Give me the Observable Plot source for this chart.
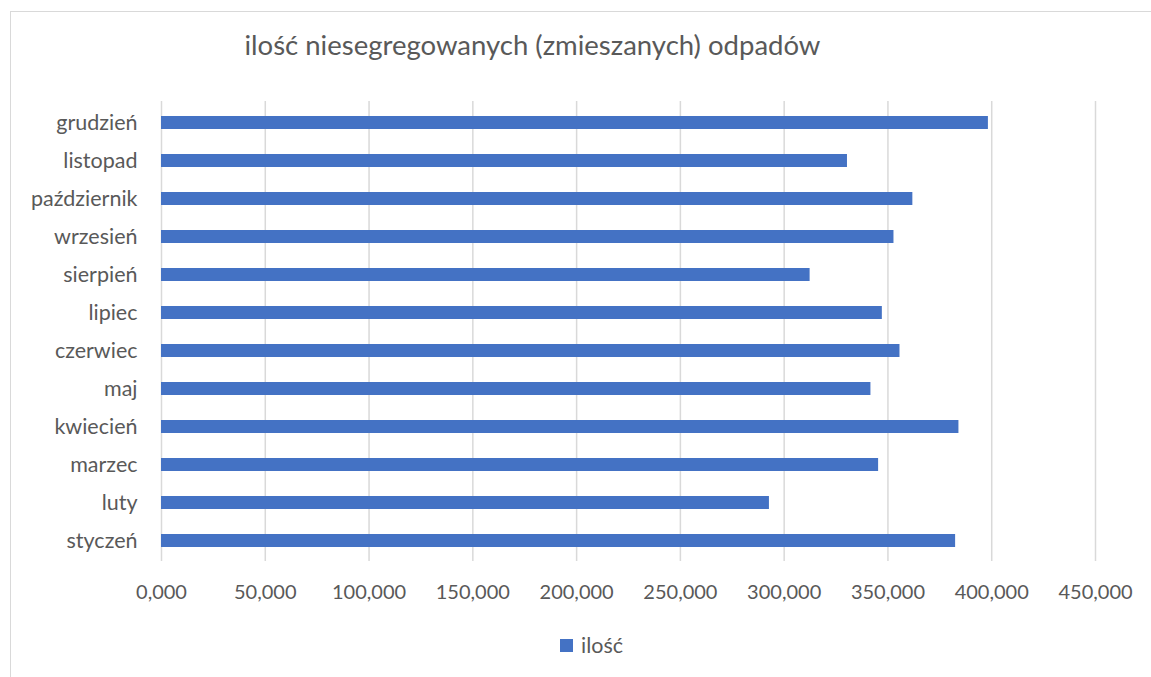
<!DOCTYPE html>
<html>
<head>
<meta charset="utf-8">
<script src="https://cdn.jsdelivr.net/npm/d3@7"></script>
<script src="https://cdn.jsdelivr.net/npm/@observablehq/plot@0.6"></script>
<style>
  html, body { margin: 0; padding: 0; background: #fff; }
  #wrap { position: relative; width: 1151px; height: 677px; overflow: hidden; font-family: Lato, "Open Sans", sans-serif; color: #595959; }
  #frame { position: absolute; left: 10px; top: 11px; width: 1160px; height: 700px; border: 1.5px solid #d9d9d9; box-sizing: border-box; }
  #title { position: absolute; left: 0; width: 1065px; top: 27px; text-align: center; font-size: 27.5px; line-height: 36px; color: #595959; white-space: nowrap; }
  #chart { position: absolute; left: 0; top: 0; }
  #legend { position: absolute; top: 631px; left: 560px; font-size: 21.5px; line-height: 28px; display: flex; align-items: center; gap: 8px; color: #595959; }
  #legend .sw { width: 13px; height: 13px; background: #4472C4; display: inline-block; }
</style>
</head>
<body>
<div id="wrap">
  <div id="frame"></div>
  <div id="title">ilość niesegregowanych (zmieszanych) odpadów</div>
  <div id="chart"></div>
  <div id="legend"><span class="sw"></span><span>ilość</span></div>
</div>
<script>
const months = ["styczeń","luty","marzec","kwiecień","maj","czerwiec","lipiec","sierpień","wrzesień","październik","listopad","grudzień"];
const values = [382.6, 292.9, 345.5, 384.2, 341.8, 355.8, 347.3, 312.5, 352.9, 362.0, 330.5, 398.4];
const xTicks = [0, 50, 100, 150, 200, 250, 300, 350, 400, 450];
const seriesName = "ilość";

const data = months.map((m, i) => ({month: m, value: values[i]}));
const fmt = d => d.toFixed(3).replace(".", ",");

const chart = Plot.plot({
  width: 1151,
  height: 677,
  marginTop: 101,
  marginBottom: 116,
  marginLeft: 161,
  marginRight: 56,
  style: {fontFamily: "Lato, 'Open Sans', sans-serif", fontSize: "20px", color: "#595959", background: "transparent"},
  x: {domain: [0, 450], ticks: xTicks, tickFormat: fmt, label: null},
  y: {domain: months.slice().reverse(), paddingInner: 0.66, paddingOuter: 0.33, label: null},
  marks: [
    Plot.gridX(xTicks, {stroke: "#d9d9d9", strokeWidth: 1.5, strokeOpacity: 1}),
    Plot.barX(data, {x: "value", y: "month", fill: "#4472C4"}),
    Plot.axisX({ticks: xTicks, tickFormat: fmt, tickSize: 0, tickPadding: 23, fontSize: 20, fill: "#595959", label: null}),
    Plot.axisY({tickSize: 0, tickPadding: 24, fontSize: 21.5, fill: "#595959", label: null})
  ]
});
document.getElementById("chart").appendChild(chart);
</script>
</body>
</html>
